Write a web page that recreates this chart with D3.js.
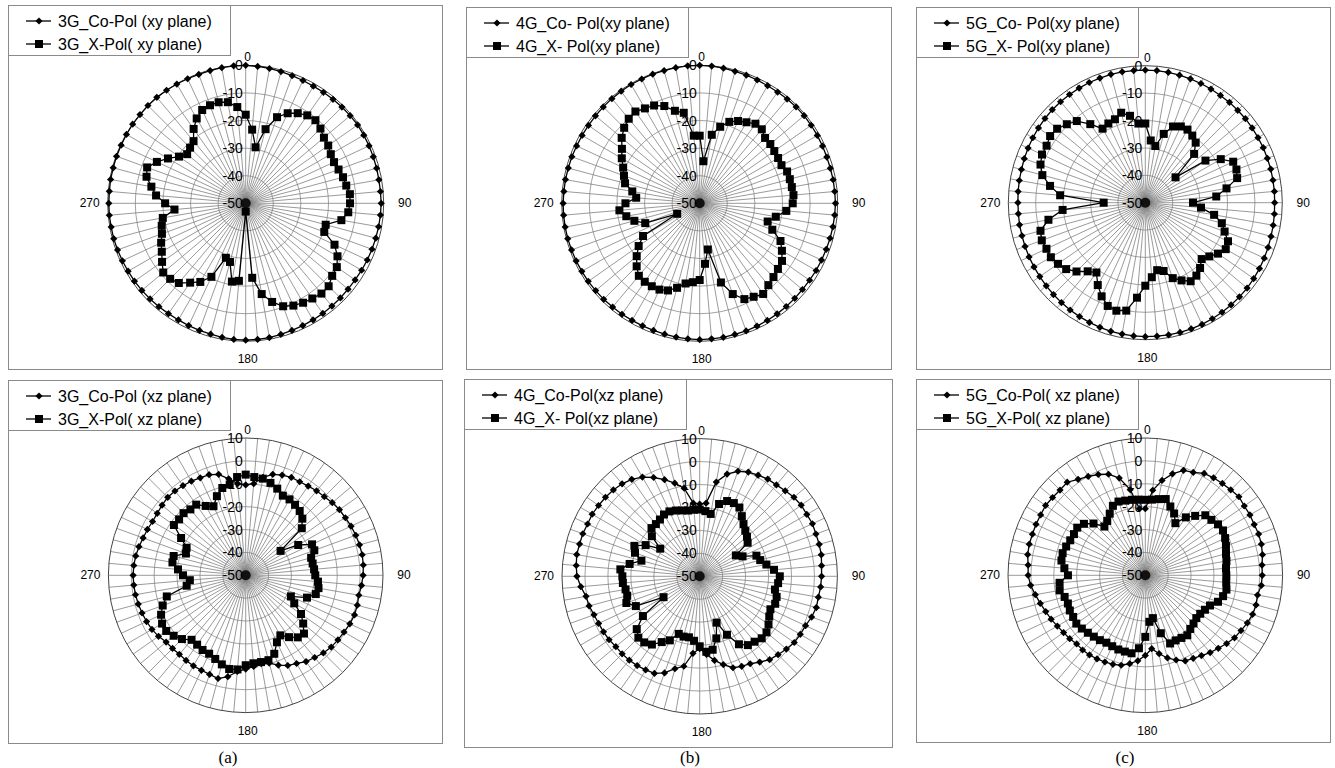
<!DOCTYPE html>
<html>
<head>
<meta charset="utf-8">
<script src="https://cdn.jsdelivr.net/npm/d3@7"></script>
<style>
body { margin: 0; background: #fff; }
text { font-family: "Liberation Sans", Arial, sans-serif; fill: #000; }
.cap { font-family: "Liberation Serif", "Times New Roman", serif; }
</style>
</head>
<body>
<svg id="chart" width="1335" height="768"></svg>
<script>
// angle of every measured point, degrees clockwise from 0
const angles = [
  0, 5, 10, 15, 20, 25, 30, 35, 40, 45, 50, 55,
  60, 65, 70, 75, 80, 85, 90, 95, 100, 105, 110, 115,
  120, 125, 130, 135, 140, 145, 150, 155, 160, 165, 170, 175,
  180, 185, 190, 195, 200, 205, 210, 215, 220, 225, 230, 235,
  240, 245, 250, 255, 260, 265, 270, 275, 280, 285, 290, 295,
  300, 305, 310, 315, 320, 325, 330, 335, 340, 345, 350, 355
];
const angleLabels = ["0", "90", "180", "270"];
const ticksXY = [0, -10, -20, -30, -40, -50];
const ticksXZ = [10, 0, -10, -20, -30, -40, -50];
const captions = ["(a)", "(b)", "(c)"];

// 3G, xy plane
const co3gXY = [
  0, -0.2, -0.4, -0.6, -0.8, -0.9, -1.0, -0.9, -0.8, -0.7, -0.6, -0.5,
  -0.6, -0.7, -0.8, -0.9, -1.0, -1.0, -0.9, -1.0, -1.1, -1.2, -1.3, -1.4,
  -1.5, -1.6, -1.6, -1.5, -1.4, -1.3, -1.2, -1.1, -1.0, -0.8, -0.6, -0.5,
  -0.4, -0.5, -0.7, -0.9, -1.0, -1.1, -1.2, -1.2, -1.1, -1.0, -0.9, -0.8,
  -0.8, -0.7, -0.6, -0.5, -0.5, -0.4, -0.4, -0.4, -0.3, -0.3, -0.2, -0.2,
  -0.1, 0, 0, 0.1, 0.1, 0, -0.1, -0.2, -0.3, -0.2, -0.1, 0
];
const x3gXY = [
  -17.9, -23.2, -29.4, -22.2, -16.8, -14, -12.3, -11.1, -10.7, -11.7, -13.0, -13.5,
  -14.4, -14.7, -14.2, -13.5, -13.0, -12.1, -12.2, -12.7, -14.8, -20.0, -19.7, -14.5,
  -11.6, -9.7, -9.1, -7.5, -7.3, -7.9, -8.4, -9.1, -10.3, -13.0, -16.6, -22.9,
  -47, -21.8, -21.2, -28, -29, -20.6, -17.1, -14.9, -12.3, -11.3, -11.0, -13.0,
  -14.9, -16.2, -17.7, -18.5, -19.5, -24.1, -20.8, -17.4, -15.3, -12.8, -12.0, -14.5,
  -17.5, -20.5, -22.3, -21.5, -20.6, -17.1, -14.5, -12.7, -12.2, -12.1, -12.8, -15
];

// 4G, xy plane
const co4gXY = [
  0, -0.1, -0.3, -0.5, -0.6, -0.7, -0.8, -0.8, -0.7, -0.6, -0.6, -0.7,
  -0.8, -0.9, -1.0, -1.0, -0.9, -0.9, -0.8, -0.9, -1.0, -1.1, -1.2, -1.3,
  -1.3, -1.4, -1.4, -1.3, -1.2, -1.1, -1.0, -0.9, -0.8, -0.8, -0.7, -0.7,
  -0.6, -0.7, -0.8, -0.9, -1.0, -1.0, -1.0, -0.9, -0.9, -0.8, -0.8, -0.7,
  -0.7, -0.6, -0.6, -0.5, -0.5, -0.5, -0.5, -0.6, -0.6, -0.7, -0.7, -0.8,
  -0.8, -0.8, -0.7, -0.6, -0.5, -0.4, -0.3, -0.3, -0.2, -0.2, -0.1, 0
];
const x4gXY = [
  -25.5, -34.7, -24.8, -21.3, -18.6, -17.1, -16.1, -14.8, -15.0, -16.5, -16.6, -17.0,
  -17.2, -17.3, -16.3, -16.2, -16.1, -15.9, -16.3, -18.5, -22, -24.5, -22, -17.7,
  -15.6, -13.6, -13, -12.2, -11.3, -9.9, -10.9, -11.7, -15, -20.3, -33, -28,
  -22.2, -21.3, -20.5, -18.3, -16.4, -15.5, -15.3, -15.3, -15.7, -17.7, -20.2, -23,
  -26.3, -41, -29, -25.5, -23, -20.8, -23.1, -26.9, -25.2, -22, -20.8, -19.4,
  -17.4, -15.6, -13.1, -11.3, -10, -9.4, -10.3, -10.9, -12.5, -15.3, -16.7, -25.4
];

// 5G, xy plane
const co5gXY = [
  -1.6, -1.6, -1.7, -1.8, -1.9, -2.0, -2.1, -2.2, -2.2, -2.3, -2.3, -2.4,
  -2.5, -2.5, -2.6, -2.6, -2.7, -2.7, -2.8, -2.7, -2.6, -2.5, -2.3, -2.1,
  -1.9, -1.7, -1.5, -1.4, -1.3, -1.2, -1.1, -1.0, -1.0, -1.0, -1.0, -1.1,
  -1.1, -1.2, -1.3, -1.4, -1.6, -1.8, -2.0, -2.2, -2.4, -2.6, -2.8, -3.0,
  -3.1, -3.2, -3.3, -3.4, -3.4, -3.5, -3.5, -3.4, -3.3, -3.2, -3.0, -2.8,
  -2.6, -2.4, -2.2, -2.0, -1.9, -1.8, -1.7, -1.6, -1.6, -1.5, -1.5, -1.6
];
const x5gXY = [
  -21.1, -27.2, -29, -24, -20.4, -19.3, -19.2, -20.1, -21.4, -24.8, -35.6, -23.2,
  -18.2, -14.6, -14.6, -15.3, -19.9, -24, -32.6, -29.6, -24.5, -21.1, -19.2, -16.7,
  -16.1, -17.6, -19.5, -20.9, -18.9, -17.5, -16.9, -18.7, -20.7, -24.2, -25, -22.7,
  -19.7, -15.2, -10, -9.2, -9.9, -12.3, -15.3, -18.9, -17.3, -14.5, -12.3, -11.1,
  -10.2, -10.2, -9.8, -10.4, -14.1, -19.7, -34.8, -18.8, -14.7, -11.1, -9.3, -8.4,
  -8.4, -7.6, -8, -9.5, -11.1, -15, -18.8, -18.1, -17.6, -16, -17.8, -21
];

// 3G, xz plane
const co3gXZ = [
  -10.5, -9.8, -6.5, -4.3, -3.4, -2.8, -2.8, -2.4, -1.8, -1.4, -0.6, 0,
  0.3, 0.8, 1.2, 1.5, 1.7, 1.6, 1.3, 0.8, 0.2, 0.5, 0.6, 0.2,
  -0.4, -0.8, -1.2, -2, -3.1, -4, -5.5, -6.5, -8.2, -10.3, -10.8, -10,
  -9, -7.8, -5, -3.3, -3.9, -4.2, -4.3, -4.6, -4.9, -4.8, -4.6, -3.5,
  -2.7, -2.2, -1.8, -1.4, -1.1, -0.9, -0.8, -0.9, -1.2, -1.7, -2.3, -2.6,
  -3, -2.8, -2.3, -1.8, -1.9, -2.2, -2.5, -3, -3.2, -4.3, -7.2, -9.8
];
const x3gXZ = [
  -6.0, -6.9, -7.1, -8.2, -9.7, -11.6, -11.7, -12.4, -13.3, -15, -18, -31.4,
  -23.5, -18, -18.1, -20.4, -20.3, -20, -19.6, -18.3, -17.7, -18.3, -21.5, -28.2,
  -25.5, -20.5, -17.2, -14, -14.6, -17, -19.7, -17.7, -13.5, -11.6, -11.5, -11.4,
  -10.7, -8.7, -8.4, -9.7, -11.1, -12.2, -12.3, -13, -13.2, -10.6, -8.9, -7.6,
  -7.8, -9.2, -11.4, -14.3, -23.8, -25.5, -22.6, -20.3, -17.5, -17.4, -22.2, -21.5,
  -17.4, -11.7, -12, -11.6, -12.4, -12.3, -15, -16.7, -13.2, -10.5, -9.7, -6.9
];

// 4G, xz plane
const co4gXZ = [
  -18.5, -18, -8.3, -3.9, -1.3, 0.1, 0.9, 1.7, 2.0, 2.7, 3.6, 4.0,
  3.9, 4.2, 3.9, 3.9, 3.8, 3.3, 3.1, 2.9, 2.5, 2.6, 1.9, 0.9,
  0.6, 0.3, -0.7, -1.7, -2.6, -4.4, -6, -6.7, -7.6, -10.2, -12.8, -15.8,
  -18.5, -16.3, -10.2, -8.3, -5.2, -3.3, -2.9, -2.5, -2.3, -2.2, -2.3, -1.8,
  -1.6, -1.4, -1.0, -0.1, 0.3, 2.0, 3.5, 4, 4.4, 4.2, 4.2, 3.9,
  4.1, 3.8, 3.6, 3.2, 2.6, 1.6, -0.1, -2.5, -5.2, -8, -11, -18
];
const x4gXZ = [
  -20.9, -21.5, -22.4, -17.4, -15.1, -14.8, -15.4, -18, -20.3, -21.9, -23.1, -24.5,
  -31.8, -29.4, -23.7, -22.7, -20.5, -17.5, -15.1, -15.7, -16.7, -15.3, -15, -16,
  -15, -13.4, -12, -11.8, -12.8, -13.4, -15.8, -21.9, -28.5, -22, -17.5, -17,
  -19.5, -21.8, -23, -22.8, -23.3, -19.2, -16.9, -13.7, -12.4, -12.2, -14.2, -19.8,
  -31.8, -19.3, -16, -17.3, -17.2, -16.4, -16.3, -15.3, -19, -23.7, -20, -18.6,
  -22.8, -29, -22.8, -20.3, -20.3, -19.8, -18.9, -18.8, -19.5, -20.3, -20.9, -20.9
];

// 5G, xz plane
const co5gXZ = [
  -20.9, -12.7, -7.9, -4.1, -1.2, -0.4, 1.4, 2, 2.4, 2.8, 3.4, 2.8,
  2.8, 2.5, 2.7, 2.5, 2, 1.2, 1.1, 0.9, -0.2, 0.1, -0.1, -0.8,
  -1.7, -2.4, -3.6, -4.9, -5.9, -7.2, -8.1, -8.7, -10.6, -12.6, -15.2, -17.8,
  -15, -12.5, -10.8, -9.3, -8.6, -8.2, -7.8, -7.5, -7.4, -7.6, -6.9, -6.4,
  -5.6, -4.6, -3.7, -2.5, -1.2, 0.3, 1.2, 1.4, 2.2, 2.5, 2.5, 2.7,
  2.8, 3.2, 2.9, 2.7, 3.1, 1.2, -0.1, -1.4, -3, -6, -12, -20.8
];
const x5gXZ = [
  -17, -16.8, -16.2, -15.5, -18, -20.2, -23.7, -19.1, -16.1, -12.9, -12.3, -11.2,
  -10.8, -11.5, -12.5, -13.5, -14, -14.6, -14.6, -14.5, -14, -14.8, -16.2, -18.8,
  -19.9, -20.7, -20.9, -20.2, -19.4, -18, -18.4, -18.6, -18.3, -23.8, -31, -29.6,
  -23.1, -18, -15.4, -15.5, -15.5, -15.8, -16, -15.4, -15, -14.5, -13.8, -13.2,
  -13.6, -13.6, -14, -13.5, -12, -12.4, -16.2, -14.5, -12.8, -12.6, -13.2, -13.8,
  -14, -13.7, -15, -18, -22.2, -21, -18.9, -16.5, -15.7, -16.2, -16.5, -16.8
];

const panels = [
  { box: [8, 5, 442, 369], cx: 245.7, cy: 203.3, R: 138, ticks: ticksXY, co: co3gXY, xp: x3gXY,
    names: ["3G_Co-Pol (xy plane)", "3G_X-Pol( xy plane)"] },
  { box: [466, 7, 891, 369], cx: 699.7, cy: 203.3, R: 138, ticks: ticksXY, co: co4gXY, xp: x4gXY,
    names: ["4G_Co- Pol(xy plane)", "4G_X- Pol(xy plane)"] },
  { box: [916, 7, 1330, 369], cx: 1145.3, cy: 202.7, R: 137, ticks: ticksXY, co: co5gXY, xp: x5gXY,
    names: ["5G_Co- Pol(xy plane)", "5G_X- Pol(xy plane)"] },
  { box: [8, 380, 442, 743], cx: 245.7, cy: 575.3, R: 137.3, ticks: ticksXZ, co: co3gXZ, xp: x3gXZ,
    names: ["3G_Co-Pol (xz plane)", "3G_X-Pol( xz plane)"] },
  { box: [464, 379, 892, 747], cx: 699.7, cy: 576.3, R: 137.7, ticks: ticksXZ, co: co4gXZ, xp: x4gXZ,
    names: ["4G_Co-Pol(xz plane)", "4G_X- Pol(xz plane)"] },
  { box: [916, 379, 1330, 742], cx: 1145.3, cy: 575.3, R: 137.3, ticks: ticksXZ, co: co5gXZ, xp: x5gXZ,
    names: ["5G_Co-Pol( xz plane)", "5G_X-Pol( xz plane)"] }
];

const svg = d3.select("#chart");
const rad = d => d * Math.PI / 180;
const diamond = "M0,-3.6L3.6,0L0,3.6L-3.6,0Z";
const square = "M-4,-4H4V4H-4Z";

panels.forEach(p => {
  const [x0, y0, x1, y1] = p.box;
  const g = svg.append("g");

  g.append("rect")
    .attr("x", x0 + 0.5).attr("y", y0 + 0.5)
    .attr("width", x1 - x0).attr("height", y1 - y0)
    .attr("fill", "#fff").attr("stroke", "#8a8a8a").attr("stroke-width", 1);

  const r = d3.scaleLinear().domain([-50, d3.max(p.ticks)]).range([0, p.R]);
  const plot = g.append("g").attr("transform", `translate(${p.cx},${p.cy})`);

  // spokes
  plot.selectAll(".spoke")
    .data(angles)
    .join("line")
    .attr("x1", 0).attr("y1", 0)
    .attr("x2", d => p.R * Math.sin(rad(d)))
    .attr("y2", d => -p.R * Math.cos(rad(d)))
    .attr("stroke", "#6e6e6e").attr("stroke-width", 0.7);

  // dark hub where the spokes meet
  plot.append("circle").attr("r", 5).attr("fill", "#111");

  // rings
  plot.selectAll(".ring")
    .data(p.ticks.filter(t => t > -50))
    .join("circle")
    .attr("r", d => r(d))
    .attr("fill", "none")
    .attr("stroke", (d, i) => i === 0 ? "#444" : "#7a7a7a")
    .attr("stroke-width", (d, i) => i === 0 ? 1 : 0.7);

  // value labels
  plot.selectAll(".tick")
    .data(p.ticks)
    .join("text")
    .attr("x", -3)
    .attr("y", d => -r(d))
    .attr("text-anchor", "end")
    .attr("dominant-baseline", "central")
    .style("font-size", "14px")
    .text(d => d);

  // angle labels
  const lab = [
    { t: angleLabels[0], x: 2, y: -p.R - 8 },
    { t: angleLabels[1], x: p.R + 21, y: 0 },
    { t: angleLabels[2], x: 2, y: p.R + 18 },
    { t: angleLabels[3], x: -p.R - 18, y: 0 }
  ];
  plot.selectAll(".alab")
    .data(lab)
    .join("text")
    .attr("x", d => d.x).attr("y", d => d.y)
    .attr("text-anchor", "middle")
    .attr("dominant-baseline", "central")
    .style("font-size", "12px")
    .text(d => d.t);

  const line = d3.lineRadial()
    .angle((d, i) => rad(angles[i]))
    .radius(d => r(d))
    .curve(d3.curveLinearClosed);

  const pos = (d, i) => {
    const a = rad(angles[i]);
    return `translate(${r(d) * Math.sin(a)},${-r(d) * Math.cos(a)})`;
  };

  plot.append("path").attr("d", line(p.co))
    .attr("fill", "none").attr("stroke", "#000").attr("stroke-width", 1.3);
  plot.selectAll(".co")
    .data(p.co)
    .join("path")
    .attr("d", diamond)
    .attr("transform", pos)
    .attr("fill", "#000");

  plot.append("path").attr("d", line(p.xp))
    .attr("fill", "none").attr("stroke", "#000").attr("stroke-width", 1.3);
  plot.selectAll(".xp")
    .data(p.xp)
    .join("path")
    .attr("d", square)
    .attr("transform", pos)
    .attr("fill", "#000");

  // legend
  const lg = g.append("g").attr("transform", `translate(${x0},${y0})`);
  lg.append("rect")
    .attr("x", 0.5).attr("y", 0.5).attr("width", 222).attr("height", 50)
    .attr("fill", "#fff").attr("stroke", "#8a8a8a");
  p.names.forEach((n, i) => {
    const yy = 16 + i * 23;
    lg.append("line").attr("x1", 18).attr("x2", 43).attr("y1", yy).attr("y2", yy)
      .attr("stroke", "#000").attr("stroke-width", 1.3);
    lg.append("path").attr("d", i === 0 ? diamond : square)
      .attr("transform", `translate(31,${yy})`).attr("fill", "#000");
    lg.append("text").attr("x", 50).attr("y", yy)
      .attr("dominant-baseline", "central")
      .style("font-size", "16px")
      .text(n);
  });
});

// sub-figure captions
svg.selectAll(".cap")
  .data(captions)
  .join("text")
  .attr("class", "cap")
  .attr("x", (d, i) => [228, 690, 1125][i])
  .attr("y", 757)
  .attr("text-anchor", "middle")
  .attr("dominant-baseline", "central")
  .style("font-size", "17px")
  .text(d => d);
</script>
</body>
</html>
